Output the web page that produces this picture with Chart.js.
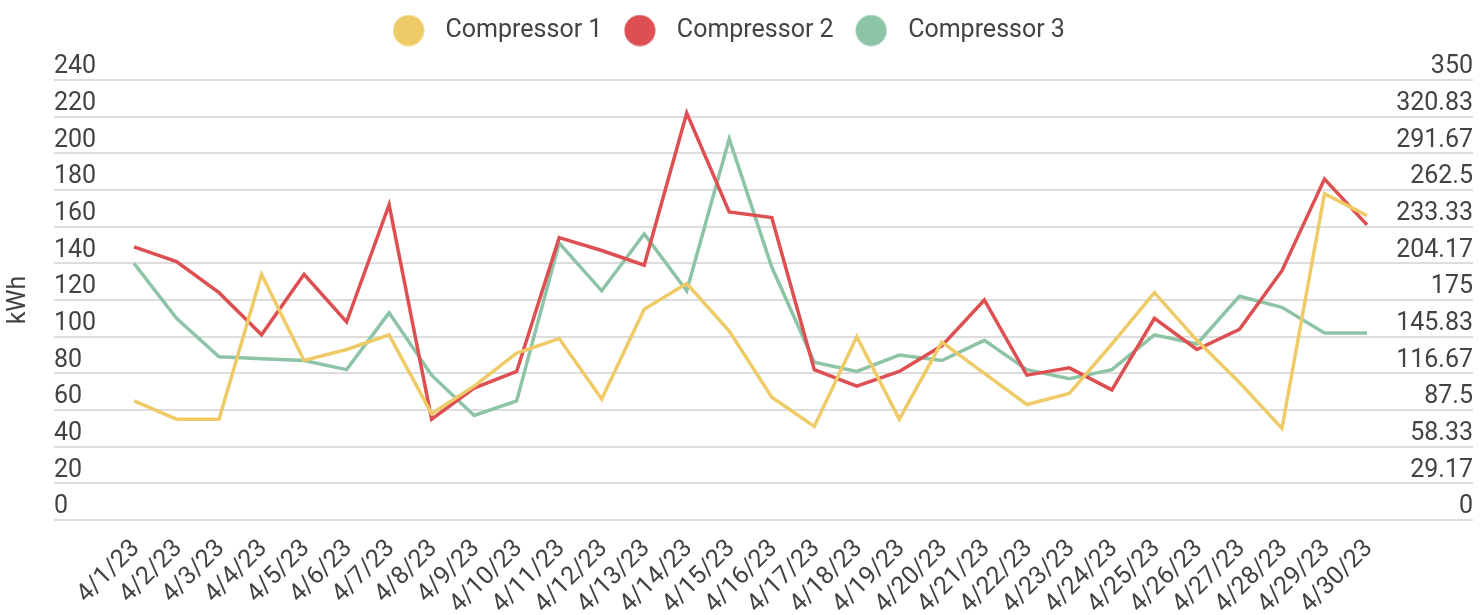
<!DOCTYPE html>
<html>
<head>
<meta charset="utf-8">
<script src="https://cdn.jsdelivr.net/npm/chart.js@4/dist/chart.umd.min.js"></script>
<style>html,body{margin:0;padding:0;background:#fff;overflow:hidden}</style>
</head>
<body>
<canvas id="c" width="1482" height="615"></canvas>
<script>
const categories = ['4/1/23','4/2/23','4/3/23','4/4/23','4/5/23','4/6/23','4/7/23','4/8/23','4/9/23','4/10/23',
  '4/11/23','4/12/23','4/13/23','4/14/23','4/15/23','4/16/23','4/17/23','4/18/23','4/19/23','4/20/23',
  '4/21/23','4/22/23','4/23/23','4/24/23','4/25/23','4/26/23','4/27/23','4/28/23','4/29/23','4/30/23'];
const compressor1 = [65,55,55,134,87,93,101,58,73,91,99,66,115,129,103,67,51,100,55,97,80,63,69,96,124,98,75,50,178,166];
const compressor2 = [149,141,124,101,134,108,172,55,72,81,154,147,139,222,168,165,82,73,81,95,120,79,83,71,110,93,104,136,186,161];
const compressor3 = [140,110,89,88,87,82,113,79,57,65,151,125,156,125,208,138,86,81,90,87,98,82,77,82,101,96,122,116,102,102];
const leftTickRange = {min: 0, max: 240, step: 20};
const rightTickLabels = ['0','29.17','58.33','87.5','116.67','145.83','175','204.17','233.33','262.5','291.67','320.83','350'];
const seriesNames = ['Compressor 1','Compressor 2','Compressor 3'];

const COLORS = ['#EFCB68', '#DD4F51', '#8DC4A7'];
const TEXT = '#434343';
const GRID = '#dddddd';
const FONT = {family: 'Roboto', size: 25};

function dot(color) {
  const c = document.createElement('canvas');
  c.width = 32; c.height = 32;
  const g = c.getContext('2d');
  g.fillStyle = color;
  g.beginPath(); g.arc(16, 16, 15.5, 0, Math.PI * 2); g.fill();
  return c;
}

const values = [compressor1, compressor2, compressor3];
const datasets = values.map((v, i) => ({
  label: seriesNames[i],
  data: v,
  borderColor: COLORS[i],
  backgroundColor: COLORS[i],
  borderWidth: 3.5,
  pointRadius: 0,
  pointHoverRadius: 0,
  pointStyle: dot(COLORS[i]),
  tension: 0,
  fill: false,
  yAxisID: 'y'
}));

const legendShift = {
  id: 'legendShift',
  afterLayout(chart) {
    if (chart.legend) { chart.legend.left -= 12; chart.legend.right -= 12; }
  }
};

new Chart(document.getElementById('c'), {
  type: 'line',
  data: {labels: categories, datasets},
  plugins: [legendShift],
  options: {
    responsive: false,
    animation: false,
    devicePixelRatio: 1,
    layout: {padding: {top: 5, right: 9, left: 0, bottom: 0}},
    plugins: {
      legend: {
        position: 'top',
        labels: {
          usePointStyle: true,
          pointStyleWidth: 49,
          boxHeight: 23,
          font: FONT,
          color: TEXT,
          padding: 13
        }
      },
      subtitle: {display: true, text: '', position: 'top', weight: 500, padding: 0, font: {size: 27, lineHeight: 1}},
      tooltip: {enabled: false}
    },
    scales: {
      x: {
        type: 'category',
        offset: false,
        grid: {display: false, drawTicks: false},
        border: {display: false},
        ticks: {autoSkip: false, maxRotation: 45, minRotation: 45, font: FONT, color: TEXT, padding: 14, labelOffset: 2},
        afterFit: s => { s.height = 95; }
      },
      y: {
        position: 'left',
        min: leftTickRange.min,
        max: leftTickRange.max,
        ticks: {stepSize: leftTickRange.step, mirror: true, padding: -80, labelOffset: -13, font: FONT, color: TEXT},
        grid: {color: GRID, lineWidth: 2, tickLength: 80, drawTicks: true},
        border: {display: false},
        title: {display: true, text: 'kWh', font: FONT, color: TEXT, padding: {top: 4, bottom: 0}},
        afterFit: s => { s.width = 134; }
      },
      y2: {
        position: 'right',
        min: 0,
        max: 350,
        ticks: {count: rightTickLabels.length, callback: (v, i) => rightTickLabels[i], crossAlign: 'far', labelOffset: -13, font: FONT, color: TEXT},
        grid: {drawOnChartArea: false, color: GRID, lineWidth: 2, tickLength: 106, drawTicks: true},
        border: {display: false},
        afterFit: s => { s.width = 106; }
      }
    }
  }
});
</script>
</body>
</html>
